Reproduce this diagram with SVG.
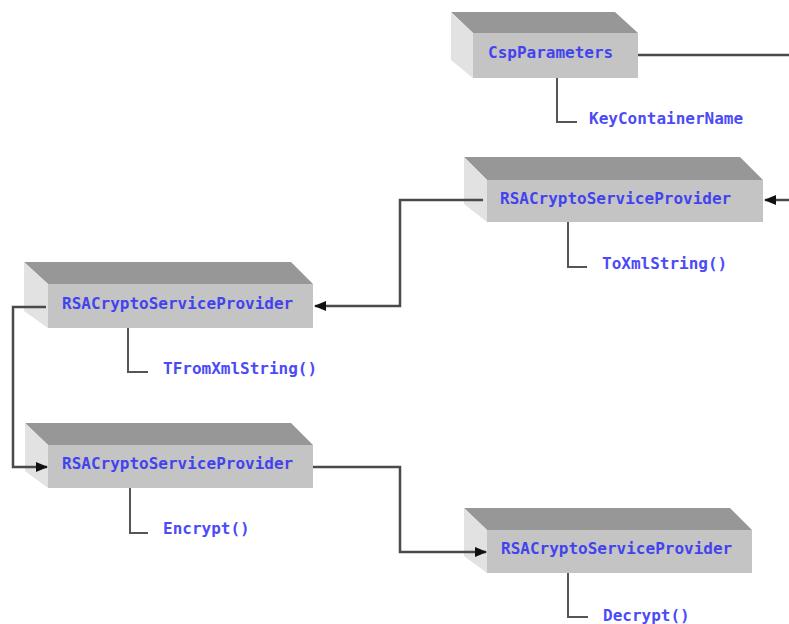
<svg xmlns="http://www.w3.org/2000/svg" width="789" height="624" viewBox="0 0 789 624">
  <defs>
    <style>
      .top { fill: #979797; }
      .side { fill: #e2e2e2; }
      .front { fill: #c4c4c4; }
      .label { font-family: "DejaVu Sans Mono", "Liberation Mono", monospace; font-size: 16px; font-weight: bold; fill: #4343ee; }
      .member { font-family: "DejaVu Sans Mono", "Liberation Mono", monospace; font-size: 16px; font-weight: bold; fill: #4b4bf7; }
      .stub { fill: none; stroke: #555555; stroke-width: 2; }
      .link { fill: none; stroke: #4a4a4a; stroke-width: 2.5; }
    </style>
    <marker id="arrow" viewBox="0 0 12 10" refX="11" refY="5" markerWidth="12" markerHeight="10" markerUnits="userSpaceOnUse" orient="auto">
      <path d="M0,0 L12,5 L0,10 Z" fill="#111111"/>
    </marker>
  </defs>

  <rect width="789" height="624" fill="#ffffff"/>

  <!-- CspParameters -->
  <g id="csp-parameters">
    <polygon class="top" points="451,12 615,12 638,33 473,33"/>
    <polygon class="side" points="451,12 473,33 473,78 451,60"/>
    <rect class="front" x="473" y="33" width="165" height="45"/>
    <text class="label" x="488" y="58">CspParameters</text>
    <path class="stub" d="M557,78 V122 H577"/>
    <text class="member" x="589" y="124">KeyContainerName</text>
  </g>

  <!-- exporting provider -->
  <g id="rsa-export">
    <polygon class="top" points="464,157 740,157 763,180 487,180"/>
    <polygon class="side" points="464,157 487,180 487,222 464,204"/>
    <rect class="front" x="487" y="180" width="276" height="42"/>
    <text class="label" x="500" y="204">RSACryptoServiceProvider</text>
    <path class="stub" d="M568,222 V267 H587"/>
    <text class="member" x="602" y="269">ToXmlString()</text>
  </g>

  <!-- importing provider -->
  <g id="rsa-import">
    <polygon class="top" points="24,262 291,262 313,284 48,284"/>
    <polygon class="side" points="24,262 48,284 48,328 24,311"/>
    <rect class="front" x="48" y="284" width="265" height="44"/>
    <text class="label" x="62" y="309">RSACryptoServiceProvider</text>
    <path class="stub" d="M128,328 V372 H148"/>
    <text class="member" x="163" y="374">TFromXmlString()</text>
  </g>

  <!-- encrypting provider -->
  <g id="rsa-encrypt">
    <polygon class="top" points="25,423 291,423 313,445 48,445"/>
    <polygon class="side" points="25,423 48,445 48,488 25,471"/>
    <rect class="front" x="48" y="445" width="265" height="43"/>
    <text class="label" x="62" y="469">RSACryptoServiceProvider</text>
    <path class="stub" d="M130,488 V533 H148"/>
    <text class="member" x="163" y="534">Encrypt()</text>
  </g>

  <!-- decrypting provider -->
  <g id="rsa-decrypt">
    <polygon class="top" points="464,508 730,508 752,530 487,530"/>
    <polygon class="side" points="464,508 487,530 487,573 464,556"/>
    <rect class="front" x="487" y="530" width="265" height="43"/>
    <text class="label" x="501" y="554">RSACryptoServiceProvider</text>
    <path class="stub" d="M568,573 V617 H588"/>
    <text class="member" x="603" y="621">Decrypt()</text>
  </g>

  <!-- flow between the objects, drawn over the boxes -->
  <g id="connectors">
    <path class="link" d="M638,55 H800 V200 H765" marker-end="url(#arrow)"/>
    <path class="link" d="M483,200 H400 V306 H315" marker-end="url(#arrow)"/>
    <path class="link" d="M46,307 H13 V467 H47" marker-end="url(#arrow)"/>
    <path class="link" d="M313,467 H400 V552 H486" marker-end="url(#arrow)"/>
  </g>
</svg>
